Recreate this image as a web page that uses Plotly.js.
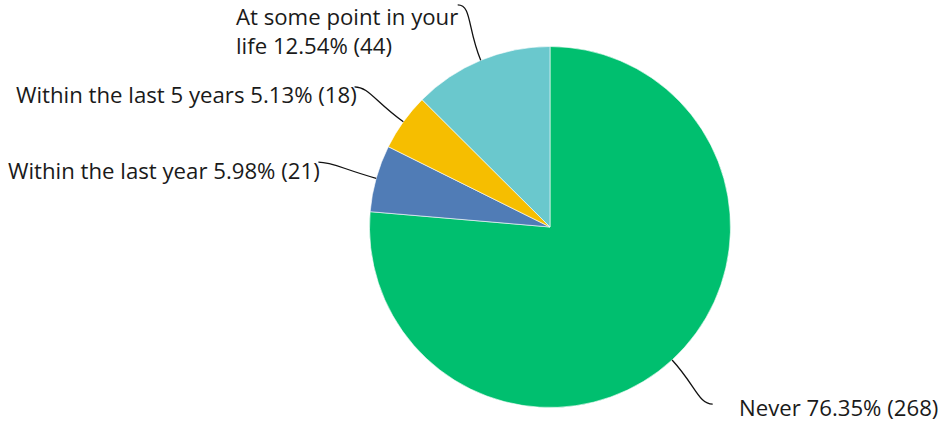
<!DOCTYPE html>
<html>
<head>
<meta charset="utf-8">
<script src="https://cdn.plot.ly/plotly-3.0.1.min.js"></script>
<style>html,body{margin:0;padding:0;background:#fff;}#chart{width:942px;height:423px;}</style>
</head>
<body>
<div id="chart"></div>
<script>
const categories = ["Never", "Within the last year", "Within the last 5 years", "At some point in your life"];
const counts = [268, 21, 18, 44];
const percents = [76.35, 5.98, 5.13, 12.54];
const labelTexts = ["Never 76.35% (268)", "Within the last year 5.98% (21)", "Within the last 5 years 5.13% (18)", "At some point in your<br>life 12.54% (44)"];
const colors = ["#00BF6F", "#507CB6", "#F6BE00", "#6AC8CD"];

const W = 942, H = 423;
const cx = 550, cy = 227, R = 180.5;   // pie geometry in pixels
const domain = {
  x: [(cx - R) / W, (cx + R) / W],
  y: [(H - cy - R) / H, (H - cy + R) / H]
};
const px = x => x / W;
const py = y => 1 - y / H;

const total = counts.reduce((a, b) => a + b, 0);
let cum = 0;
const shapes = [], annotations = [];
counts.forEach((v, i) => {
  const mid = (cum + v / 2) / total;  // fraction, clockwise from top
  cum += v;
  const ang = mid * 2 * Math.PI;
  const dx = Math.sin(ang), dy = -Math.cos(ang);   // screen direction
  const x0 = cx + R * dx, y0 = cy + R * dy;
  const L = 60;
  const x2 = cx + (R + L) * dx, y2 = cy + (R + L) * dy;
  const side = dx >= 0 ? 1 : -1;
  const c1x = x0 + 35 * dx, c1y = y0 + 35 * dy;
  const c2x = x2 - side * 14, c2y = y2;
  shapes.push({
    type: 'path', xref: 'paper', yref: 'paper',
    path: `M ${px(x0)},${py(y0)} C ${px(c1x)},${py(c1y)} ${px(c2x)},${py(c2y)} ${px(x2)},${py(y2)}`,
    line: {color: '#111', width: 1.3}
  });
  const multi = labelTexts[i].indexOf('<br>') >= 0;
  annotations.push({
    xref: 'paper', yref: 'paper',
    x: px(multi ? x2 + 2 : x2 + (side > 0 ? 24 : 4)),
    y: py(multi ? y2 + 26 : (side > 0 ? y2 + 3 : y2 + 8)),
    xanchor: side > 0 ? 'left' : 'right',
    yanchor: 'middle',
    align: 'left',
    text: labelTexts[i],
    showarrow: false,
    font: {family: 'Open Sans, sans-serif', size: 22.2, color: '#1a1a1a'}
  });
});

const data = [{
  type: 'pie',
  labels: categories,
  values: counts,
  marker: {colors: colors, line: {color: '#ffffff', width: 0.6}},
  sort: false,
  direction: 'clockwise',
  rotation: 0,
  textinfo: 'none',
  hoverinfo: 'label+value+percent',
  domain: domain,
  showlegend: false
}];

const layout = {
  width: W, height: H,
  margin: {l: 0, r: 0, t: 0, b: 0},
  paper_bgcolor: '#ffffff',
  showlegend: false,
  shapes: shapes,
  annotations: annotations
};

Plotly.newPlot('chart', data, layout, {displayModeBar: false, staticPlot: true});
</script>
</body>
</html>
